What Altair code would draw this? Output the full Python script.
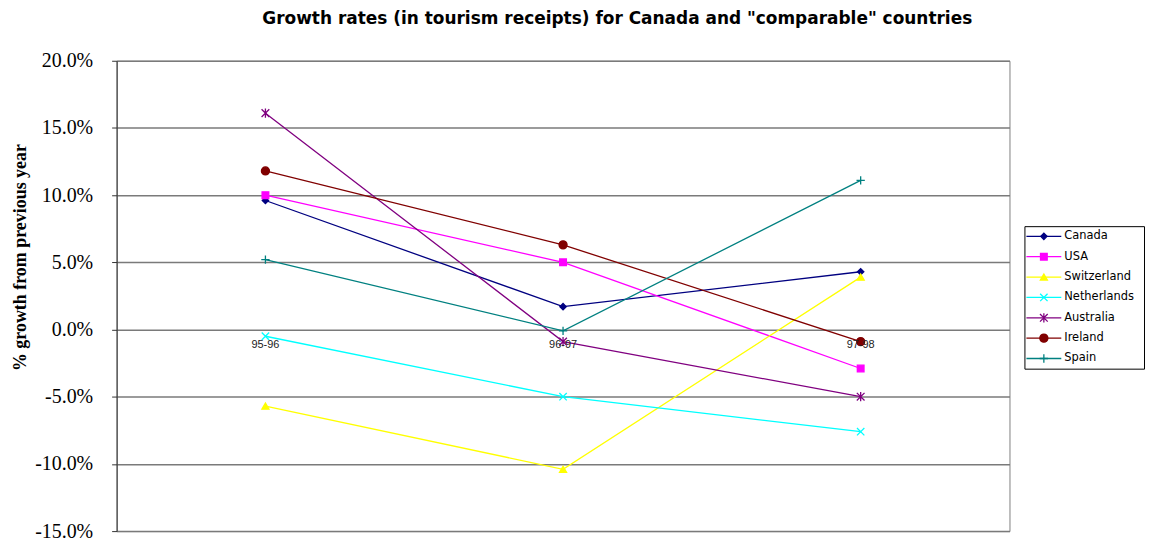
import altair as alt
import pandas as pd

periods = ["95-96", "96-97", "97-98"]
countries = ["Canada", "USA", "Switzerland", "Netherlands", "Australia", "Ireland", "Spain"]
canada = [0.096, 0.017, 0.043]
usa = [0.100, 0.050, -0.029]
switzerland = [-0.057, -0.104, 0.039]
netherlands = [-0.005, -0.050, -0.076]
australia = [0.161, -0.009, -0.050]
ireland = [0.118, 0.063, -0.009]
spain = [0.052, -0.001, 0.111]
y_ticks = [-0.15, -0.10, -0.05, 0.0, 0.05, 0.10, 0.15, 0.20]

colors = ["#000080", "#FF00FF", "#FFFF00", "#00FFFF", "#800080", "#800000", "#008080"]
x_shape = "M-1,-1L1,1M-1,1L1,-1"
asterisk = "M-1,-1L1,1M-1,1L1,-1M0,-1.2L0,1.2"
plus = "M-1,0L1,0M0,-1L0,1"
shapes = ["diamond", "square", "triangle-up", x_shape, asterisk, "circle", plus]
sizes = [40, 70, 55, 50, 50, 55, 50]

series = [canada, usa, switzerland, netherlands, australia, ireland, spain]
rows = []
for c, vals in zip(countries, series):
    for p, v in zip(periods, vals):
        rows.append({"country": c, "period": p, "value": v})
df = pd.DataFrame(rows)

color_scale = alt.Scale(domain=countries, range=colors)
shape_scale = alt.Scale(domain=countries, range=shapes)
size_scale = alt.Scale(domain=countries, range=sizes)

x_enc = alt.X("period:N", sort=periods, scale=alt.Scale(type="point", padding=0.5), axis=None)
y_enc = alt.Y(
    "value:Q",
    scale=alt.Scale(domain=[-0.15, 0.20], nice=False, zero=False),
    axis=alt.Axis(
        format=".1%", values=y_ticks, grid=True, gridColor="#7a7a7a", gridWidth=1.5,
        labelExpr="replace(datum.label, '\u2212', '-')",
        domainColor="#333333", tickColor="#333333", tickSize=5,
        labelFont="Liberation Serif", labelFontSize=20, labelColor="black", labelPadding=19,
        title="% growth from previous year", titleFont="Liberation Serif", titleFontSize=18,
        titleFontWeight="bold", titleColor="black", titlePadding=5, titleY=197,
    ),
)

base = alt.Chart(df)
lines = base.mark_line(strokeWidth=1.3).encode(
    x=x_enc, y=y_enc,
    color=alt.Color("country:N", scale=color_scale, legend=None),
    order=alt.Order("period:N"),
)
points = base.mark_point(filled=True, strokeWidth=1.3, opacity=1).encode(
    x=x_enc, y=y_enc,
    fill=alt.Fill("country:N", scale=color_scale, legend=None),
    stroke=alt.Stroke("country:N", scale=color_scale, legend=None),
    shape=alt.Shape("country:N", scale=shape_scale, legend=None),
    size=alt.Size("country:N", scale=size_scale, legend=None),
)
labels = alt.Chart(pd.DataFrame({"period": periods})).mark_text(
    dy=16, fontSize=11, font="Liberation Sans", color="#222222"
).encode(x=x_enc, y=alt.datum(0), text="period:N")

main = alt.layer(lines, points, labels).properties(
    width=896, height=472, view=alt.ViewBackground(stroke="#808080", strokeWidth=1)
)

# manual legend
ldf = pd.DataFrame({"country": countries})
lx = alt.Scale(domain=[0, 120], nice=False, zero=False)
ly = alt.Y("country:N", sort=countries, scale=alt.Scale(type="point", domain=countries, padding=0.5), axis=None)
lbase = alt.Chart(ldf)
lrule = lbase.mark_rule(strokeWidth=1.3).encode(
    x=alt.XDatum(2, type="quantitative", scale=lx, axis=None), x2=alt.datum(37), y=ly,
    color=alt.Color("country:N", scale=color_scale, legend=None),
)
lpts = lbase.mark_point(filled=True, strokeWidth=1.3, opacity=1).encode(
    x=alt.XDatum(19.5, type="quantitative", scale=lx, axis=None), y=ly,
    fill=alt.Fill("country:N", scale=color_scale, legend=None),
    stroke=alt.Stroke("country:N", scale=color_scale, legend=None),
    shape=alt.Shape("country:N", scale=shape_scale, legend=None),
    size=alt.Size("country:N", scale=size_scale, legend=None),
)
ltext = lbase.mark_text(align="left", baseline="middle", font="DejaVu Sans", fontSize=11.5, color="black").encode(
    x=alt.XDatum(40, type="quantitative", scale=lx, axis=None), y=ly, text="country:N",
)
legend = alt.layer(lrule, lpts, ltext).properties(
    width=120, height=143,
    view=alt.ViewBackground(stroke="black", strokeWidth=1),
)
spacer = alt.Chart(pd.DataFrame({"s": [0]})).mark_point(opacity=0).encode(
    x=alt.value(0), y=alt.value(0)
).properties(width=120, height=160, view=alt.ViewBackground(stroke=None))

legend_col = alt.vconcat(spacer, legend, spacing=5)

chart = alt.hconcat(main, legend_col, spacing=11).properties(
    title=alt.TitleParams(
        'Growth rates (in tourism receipts) for Canada and "comparable" countries',
        font="DejaVu Sans", fontSize=17, fontWeight="bold", color="black",
        anchor="start", dx=252, offset=22,
    ),
    padding={"left": 3, "top": 1, "right": 0, "bottom": 0},
).resolve_scale(x="independent", y="independent").configure_view(stroke=None)

chart.save("out.html", embed_options={"renderer": "svg", "actions": False})
